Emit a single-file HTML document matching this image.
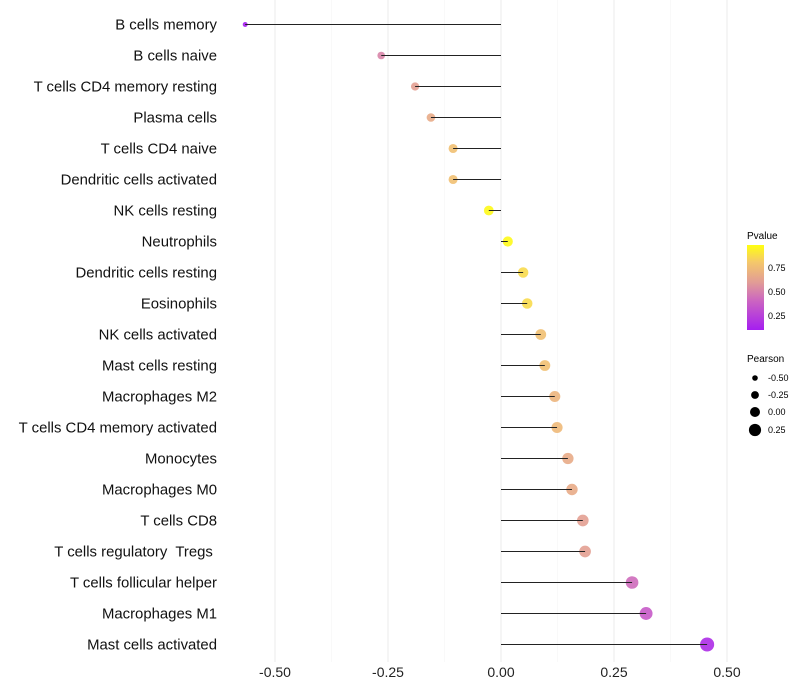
<!DOCTYPE html>
<html><head><meta charset="utf-8"><style>
body{margin:0;background:#fff;}
svg{display:block;font-family:"Liberation Sans",sans-serif;}
</style></head><body>
<svg id="chart" width="800" height="700">
<defs><linearGradient id="pg" x1="0" y1="1" x2="0" y2="0">
<stop offset="0" stop-color="#a51ef0"/><stop offset="0.35" stop-color="#cc66c0"/><stop offset="0.55" stop-color="#e09a98"/><stop offset="0.8" stop-color="#f5c86a"/><stop offset="1" stop-color="#ffff10"/></linearGradient></defs>
<g id="grid"></g><g id="marks"></g><g id="labels"></g>
<g>
<text x="747" y="239" font-size="10">Pvalue</text>
<rect x="747" y="245" width="17" height="85" fill="url(#pg)"/>
<text x="768" y="271" font-size="9">0.75</text><text x="768" y="295" font-size="9">0.50</text><text x="768" y="319" font-size="9">0.25</text>
</g>
<g>
<text x="747" y="362" font-size="10">Pearson</text>
<circle cx="755" cy="378" r="2.8"/><text x="768" y="381" font-size="9">-0.50</text>
<circle cx="755" cy="395" r="3.9"/><text x="768" y="398" font-size="9">-0.25</text>
<circle cx="755" cy="412" r="5"/><text x="768" y="415" font-size="9">0.00</text>
<circle cx="755" cy="430" r="6.1"/><text x="768" y="433" font-size="9">0.25</text>
</g>
</svg>
<script>
const categories=["B cells memory","B cells naive","T cells CD4 memory resting","Plasma cells","T cells CD4 naive","Dendritic cells activated","NK cells resting","Neutrophils","Dendritic cells resting","Eosinophils","NK cells activated","Mast cells resting","Macrophages M2","T cells CD4 memory activated","Monocytes","Macrophages M0","T cells CD8","T cells regulatory  Tregs ","T cells follicular helper","Macrophages M1","Mast cells activated"];
const pearson=[-0.566,-0.265,-0.19,-0.155,-0.106,-0.106,-0.027,0.015,0.049,0.058,0.088,0.097,0.119,0.124,0.148,0.157,0.181,0.186,0.29,0.321,0.456];
const pvalue=[0.05,0.5,0.6,0.65,0.75,0.75,0.95,0.95,0.85,0.85,0.75,0.75,0.7,0.72,0.65,0.65,0.6,0.6,0.42,0.35,0.15];
const xTicks=[-0.5,-0.25,0,0.25,0.5];
const xTickLabels=["-0.50","-0.25","0.00","0.25","0.50"];
const NS="http://www.w3.org/2000/svg";
const x=v=>501+v*452;
const y=i=>24.5+i*31;
const stops=[[0.09,[165,30,240]],[0.4,[204,102,192]],[0.57,[224,154,152]],[0.79,[245,200,106]],[0.97,[255,255,16]]];
function col(p){if(p<=stops[0][0])return `rgb(${stops[0][1]})`;for(let k=1;k<stops.length;k++){if(p<=stops[k][0]){const a=stops[k-1],b=stops[k],t=(p-a[0])/(b[0]-a[0]);return `rgb(${a[1].map((c,j)=>Math.round(c+(b[1][j]-c)*t))})`;}}return `rgb(${stops[stops.length-1][1]})`;}
function mk(t,at,par){const e=document.createElementNS(NS,t);for(const k in at)e.setAttribute(k,at[k]);par.appendChild(e);return e;}
const grid=document.getElementById('grid'),marks=document.getElementById('marks'),labels=document.getElementById('labels');
for(let v=-0.625;v<=0.626;v+=0.125){const major=Math.abs(v*4-Math.round(v*4))<1e-6;if(x(v)<232||x(v)>760)continue;
const l=mk('line',{x1:x(v),x2:x(v),y1:0,y2:662,stroke:major?'#ebebeb':'#f5f5f5','stroke-width':major?1:0.6},grid);

}
xTicks.forEach((v,i)=>{const t=mk('text',{x:x(v),y:677,'font-size':14,'text-anchor':'middle',fill:'#222'},labels);t.textContent=xTickLabels[i];

});
categories.forEach((c,i)=>{
const t=mk('text',{x:217,y:y(i)+5,'font-size':14.9,'text-anchor':'end',fill:'#111','xml:space':'preserve'},labels);t.textContent=c;
t.style.whiteSpace='pre';


const r=Math.max(1.5,5+4.5*pearson[i]);
const d=mk('circle',{cx:x(pearson[i]),cy:y(i),r:r,fill:col(pvalue[i]),'fill-opacity':0.9},marks);


const s=mk('line',{x1:x(0),x2:x(pearson[i]),y1:y(i),y2:y(i),stroke:'#222','stroke-width':1},marks);


});
</script>
</body></html>
